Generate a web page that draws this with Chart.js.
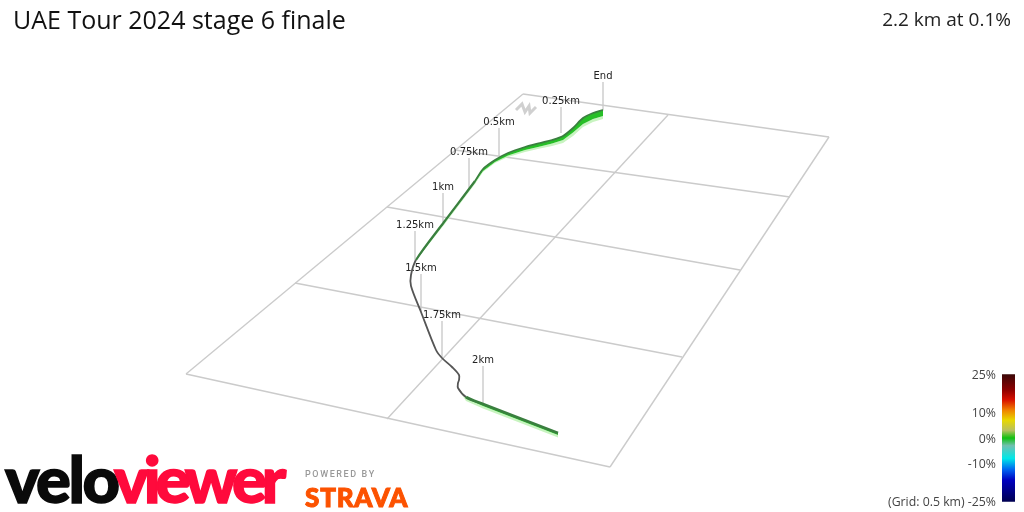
<!DOCTYPE html>
<html>
<head>
<meta charset="utf-8">
<title>UAE Tour 2024 stage 6 finale</title>
<script src="https://cdn.jsdelivr.net/npm/chart.js@4/dist/chart.umd.min.js"></script>
<style>
  html, body { margin: 0; padding: 0; background: #fff; }
  #wrap { position: relative; width: 1024px; height: 512px; overflow: hidden; }
  canvas { position: absolute; left: 0; top: 0; }
  .txt { position: absolute; white-space: nowrap; font-family: 'Open Sans', sans-serif; line-height: 1; }
  #title { left: 13px; top: 7px; font-size: 25px; color: #111; }
  #info { right: 13px; top: 10px; font-size: 19px; color: #222; }
  #velo { left: 5px; top: 439px; font: 900 65px Lato, sans-serif; letter-spacing: -2.5px; color: #0a0a0a; -webkit-text-stroke: 1.5px #0a0a0a; }
  #viewer { left: 114px; top: 439px; font: 900 65px Lato, sans-serif; letter-spacing: -5px; color: #ff0a3c; -webkit-text-stroke: 1.5px #ff0a3c; }
  #powered { left: 305px; top: 469px; font: 500 9px Roboto, sans-serif; letter-spacing: 1.6px; color: #999; }
  #strava { left: 305px; top: 481px; font: 900 26px Lato, sans-serif; letter-spacing: 0.8px; color: #fc5200; -webkit-text-stroke: 1px #fc5200; }
</style>
</head>
<body>
<div id="wrap">
  <canvas id="chart" width="1024" height="512"></canvas>
  <div class="txt" id="title">UAE Tour 2024 stage 6 finale</div>
  <div class="txt" id="info">2.2 km at 0.1%</div>
  <div class="txt" id="velo">velo</div>
  <div class="txt" id="viewer">viewer</div>
  <div class="txt" id="powered">POWERED BY</div>
  <div class="txt" id="strava">STRAVA</div>
</div>
<script>
// ── Projected grid ───────────────────────────────────────────────────────────

const gridStartX = [523, 455, 387, 295, 186, 523, 668, 829];
const gridStartY = [94, 150, 207, 283, 374, 94, 115, 137];
const gridEndX = [829, 790, 740, 682, 610, 186, 387, 610];
const gridEndY = [137, 197, 270, 357, 467, 374, 419, 467];

// ── Route, end of stage first ────────────────────────────────────────────────

const routeX = [603, 593, 583, 573, 563, 552, 540, 525, 508, 495, 483, 475, 444, 416, 411, 411, 421, 436, 442, 452, 459, 459, 458, 458, 466, 483, 558];
const routeY = [110, 113, 118, 128, 136, 140, 143, 147, 153, 160, 169, 181, 222, 260, 275, 286, 312, 350, 358, 367, 375, 380, 383, 388, 397, 404, 433];
const greenDepth = [6, 6, 6, 4.5, 4, 3.5, 3.5, 3, 2.5, 2, 2, 1.5, 1.5, 0.5, 0, 0, 0, 0, 0, 0, 0, 0, 0, 0, 1.5, 2, 2];
const paleDepth = [9, 9, 9, 8, 7, 6, 5.5, 5, 4, 3, 3, 3, 3, 0.5, 0, 0, 0, 0, 0, 0, 0, 0, 0, 0.5, 4, 4.5, 4.5];

// ── Distance markers ─────────────────────────────────────────────────────────

const markerLabels = ['End', '0.25km', '0.5km', '0.75km', '1km', '1.25km', '1.5km', '1.75km', '2km'];
const markerX = [603, 561, 499, 469, 443, 415, 421, 442, 483];
const markerTopY = [82, 107, 128, 158, 193, 231, 274, 321, 366];
const markerBaseY = [110, 133, 156, 191, 222, 262, 312, 357, 403];
const markerTextY = [76, 101, 122, 152, 187, 225, 268, 315, 360];

// ── North arrow ──────────────────────────────────────────────────────────────

const northX = [516, 522, 525, 529, 530, 536];
const northY = [110, 104, 112, 106, 113, 107];

// ── Gradient legend ──────────────────────────────────────────────────────────

const legendTicks = [25, 10, 0, -10, -25];
const legendTickLabels = ['25%', '10%', '0%', '-10%', '(Grid: 0.5 km) -25%'];
const legendStops = [25, 19, 15, 11, 7, 3, 0, -3, -8, -12.5, -16.5, -25];
const legendColors = ['#3a0808', '#8b0000', '#d81000', '#f08000', '#e8d800', '#b8c060', '#10c010', '#70c0b0', '#00e8e8', '#0060f0', '#0000c0', '#000050'];

// ── Helpers ──────────────────────────────────────────────────────────────────

const GRID_COLOR = '#cbcbcb';

function line(xs, ys, color, width, extra) {
  return Object.assign({
    data: xs.map((x, i) => ({ x, y: ys[i] })),
    borderColor: color,
    borderWidth: width,
    pointRadius: 0,
    fill: false,
    tension: 0,
  }, extra);
}

// closed band: along the route at depth a, back again at depth b
function band(depthA, depthB, color, order) {
  const xs = routeX.concat([...routeX].reverse());
  const ys = routeY.map((y, i) => y + depthA[i])
    .concat(routeY.map((y, i) => y + depthB[i]).reverse());
  return line(xs, ys, 'rgba(0,0,0,0)', 0, { order, fill: 'shape', backgroundColor: color });
}

const datasets = [];

gridStartX.forEach((x, i) => {
  datasets.push(line([x, gridEndX[i]], [gridStartY[i], gridEndY[i]], GRID_COLOR, 1.4, { order: 50 }));
});
datasets.push(line(northX, northY, '#d0d0d0', 3, { order: 49 }));
markerX.forEach((x, i) => {
  datasets.push(line([x, x], [markerTopY[i], markerBaseY[i]], GRID_COLOR, 1.4, { order: 48 }));
});

// route wall: pale band, green band, then the dark top edge
datasets.push(band(greenDepth, paleDepth, '#c8f4c0', 3));
datasets.push(band(routeY.map(() => 0), greenDepth, '#27bf27', 2));
datasets.push(line(routeX, routeY, '#555', 1.8, {
  order: 1,
  tension: 0.3,
  segment: {
    borderColor: c => (greenDepth[c.p0DataIndex] > 1 ? '#3a7f3f' : '#555'),
    borderWidth: c => (c.p0DataIndex >= 24 ? 2.8 : c.p0DataIndex >= 11 && c.p0DataIndex < 13 ? 2.2 : 1.8),
  },
}));

// legend bar runs along the grade axis
datasets.push({
  data: [{ x: 1008.5, y: 25 }, { x: 1008.5, y: -25 }],
  yAxisID: 'grade',
  borderWidth: 13,
  borderCapStyle: 'butt',
  pointRadius: 0,
  fill: false,
  order: 4,
  borderColor: ctx => {
    if (!ctx.chart.chartArea) return '#000';
    const s = ctx.chart.scales.grade;
    const g = ctx.chart.ctx.createLinearGradient(0, s.getPixelForValue(25), 0, s.getPixelForValue(-25));
    legendStops.forEach((v, i) => g.addColorStop((25 - v) / 50, legendColors[i]));
    return g;
  },
});

const textPlugin = {
  id: 'texts',
  afterDatasetsDraw(chart) {
    const { ctx, scales: { x, y, grade } } = chart;
    ctx.save();
    ctx.textBaseline = 'middle';
    ctx.font = "10px 'DejaVu Sans', sans-serif";
    ctx.fillStyle = '#222';
    ctx.textAlign = 'center';
    markerLabels.forEach((t, i) => {
      ctx.fillText(t, x.getPixelForValue(markerX[i]), y.getPixelForValue(markerTextY[i]));
    });
    ctx.font = "12.3px 'Open Sans', sans-serif";
    ctx.fillStyle = '#444';
    ctx.textAlign = 'right';
    legendTicks.forEach((v, i) => {
      ctx.fillText(legendTickLabels[i], x.getPixelForValue(996), grade.getPixelForValue(v) + 1);
    });
    ctx.restore();
  },
};

new Chart(document.getElementById('chart'), {
  type: 'line',
  data: { datasets },
  plugins: [textPlugin],
  options: {
    responsive: false,
    animation: false,
    devicePixelRatio: 1,
    layout: { padding: 0 },
    plugins: { legend: { display: false }, tooltip: { enabled: false } },
    scales: {
      x: { type: 'linear', display: false, min: 0, max: 1024 },
      y: { type: 'linear', display: false, min: 0, max: 512, reverse: true },
      grade: { type: 'linear', display: false, min: -29.02, max: 171.76 },
    },
  },
});
</script>
</body>
</html>
